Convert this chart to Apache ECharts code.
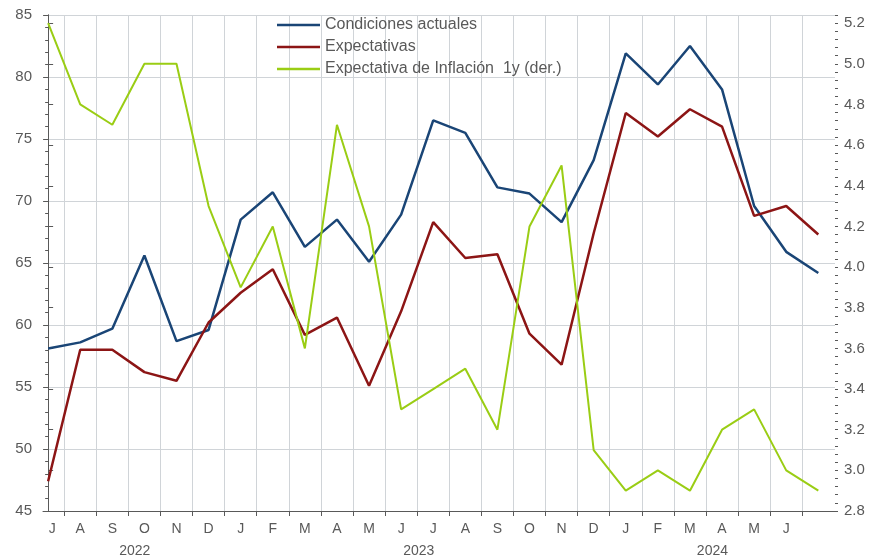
<!DOCTYPE html>
<html>
<head>
<meta charset="utf-8">
<script src="https://cdn.jsdelivr.net/npm/echarts@6/dist/echarts.min.js"></script>
<style>
html,body{margin:0;padding:0;background:#fff;}
#chart{width:871px;height:558px;}
</style>
</head>
<body>
<div id="chart"></div>
<script>
// Months Jul 2022 .. Jul 2024 (25 points); last point has no label
const monthLabels = ['J','A','S','O','N','D','J','F','M','A','M','J','J','A','S','O','N','D','J','F','M','A','M','J'];
const yearLabels = ['2022','2023','2024'];
const yearPositions = [2.7, 11.55, 20.7];

const condicionesActuales = [58.1,58.6,59.7,65.6,58.7,59.6,68.5,70.7,66.3,68.5,65.1,68.9,76.5,75.5,71.1,70.6,68.3,73.3,81.9,79.4,82.5,79.0,69.6,65.9,64.2];
const expectativas = [47.4,58.0,58.0,56.2,55.5,60.2,62.6,64.5,59.2,60.6,55.1,61.1,68.3,65.4,65.7,59.3,56.8,67.4,77.1,75.2,77.4,76.0,68.8,69.6,67.3];
const inflacion1y = [5.2,4.8,4.7,5.0,5.0,4.3,3.9,4.2,3.6,4.7,4.2,3.3,3.4,3.5,3.2,4.2,4.5,3.1,2.9,3.0,2.9,3.2,3.3,3.0,2.9];

const leftTicks = [45,50,55,60,65,70,75,80,85];
const rightTicks = [2.8,3.0,3.2,3.4,3.6,3.8,4.0,4.2,4.4,4.6,4.8,5.0,5.2];

const idx = condicionesActuales.map((_, i) => i);
const toPairs = arr => arr.map((v, i) => [idx[i], v]);

const monthBoundaries = monthLabels.map((_, i) => i + 0.5);
const monthLabelPos = monthLabels.map((_, i) => i === 0 ? 0.13 : i);
const rightMinor = [];
for (let k = 0; k <= 61; k++) rightMinor.push(+(2.8 + k * 0.04).toFixed(2));

const FONT = 'Liberation Sans';
const TXT = '#595959';
const AX = '#595959';
const GRIDC = '#D0D4D8';

const chart = echarts.init(document.getElementById('chart'), null, {renderer: 'canvas'});
chart.setOption({
  animation: false,
  backgroundColor: '#fff',
  textStyle: {fontFamily: FONT},
  grid: {left: 43, right: 36, top: 15, bottom: 47, containLabel: false},
  legend: {
    orient: 'vertical',
    left: 277, top: 17,
    padding: 0,
    icon: 'rect',
    itemWidth: 43, itemHeight: 2.5,
    itemGap: 6,
    textStyle: {fontFamily: FONT, fontSize: 16, color: TXT},
    data: ['Condiciones actuales', 'Expectativas', 'Expectativa de Inflación  1y (der.)']
  },
  xAxis: [{
    type: 'value', min: -0.16, max: 24.52,
    position: 'bottom',
    axisLine: {show: true, onZero: false, lineStyle: {color: AX, width: 1}},
    axisTick: {show: true, customValues: monthBoundaries, length: 5, lineStyle: {color: AX}},
    splitLine: {show: true, lineStyle: {color: GRIDC, width: 1}},
    axisLabel: {
      customValues: monthLabelPos, margin: 11,
      fontFamily: FONT, fontSize: 14, color: TXT,
      formatter: v => monthLabels[Math.round(v)]
    }
  }, {
    type: 'value', min: -0.16, max: 24.52,
    position: 'bottom', offset: 25,
    axisLine: {show: false}, axisTick: {show: false}, splitLine: {show: false},
    axisLabel: {
      customValues: yearPositions, margin: 8,
      fontFamily: FONT, fontSize: 14, color: TXT,
      formatter: v => yearLabels[yearPositions.indexOf(v)]
    }
  }],
  yAxis: [{
    type: 'value', min: 45, max: 85, interval: 5, position: 'left',
    axisLine: {show: true, lineStyle: {color: AX}},
    axisTick: {show: true, length: 5, lineStyle: {color: AX}},
    minorTick: {show: true, splitNumber: 5, length: 3, lineStyle: {color: AX}},
    splitLine: {show: true, lineStyle: {color: GRIDC, width: 1}},
    axisLabel: {customValues: leftTicks, margin: 11, fontFamily: FONT, fontSize: 15, color: TXT}
  }, {
    type: 'value', min: 2.8, max: 5.24, position: 'right',
    axisLine: {show: true, lineStyle: {color: AX}},
    axisTick: {show: true, customValues: rightTicks, length: 5, lineStyle: {color: AX}},
    splitLine: {show: false},
    axisLabel: {customValues: rightTicks, margin: 9, fontFamily: FONT, fontSize: 15, color: TXT,
      formatter: v => v.toFixed(1)}
  }, {
    type: 'value', min: 2.8, max: 5.24, position: 'right',
    axisLine: {show: false},
    axisTick: {show: true, customValues: rightMinor, length: 3, lineStyle: {color: AX}},
    splitLine: {show: false},
    axisLabel: {show: false}
  }],
  series: [{
    name: 'Condiciones actuales', type: 'line', xAxisIndex: 0, yAxisIndex: 0,
    data: toPairs(condicionesActuales), showSymbol: false, symbol: 'none',
    lineStyle: {color: '#1A4576', width: 2.5}, itemStyle: {color: '#1A4576'}
  }, {
    name: 'Expectativas', type: 'line', xAxisIndex: 0, yAxisIndex: 0,
    data: toPairs(expectativas), showSymbol: false, symbol: 'none',
    lineStyle: {color: '#8C1515', width: 2.5}, itemStyle: {color: '#8C1515'}
  }, {
    name: 'Expectativa de Inflación  1y (der.)', type: 'line', xAxisIndex: 0, yAxisIndex: 1,
    data: toPairs(inflacion1y), showSymbol: false, symbol: 'none',
    lineStyle: {color: '#9ACD14', width: 2}, itemStyle: {color: '#9ACD14'}
  }]
});
</script>
</body>
</html>
